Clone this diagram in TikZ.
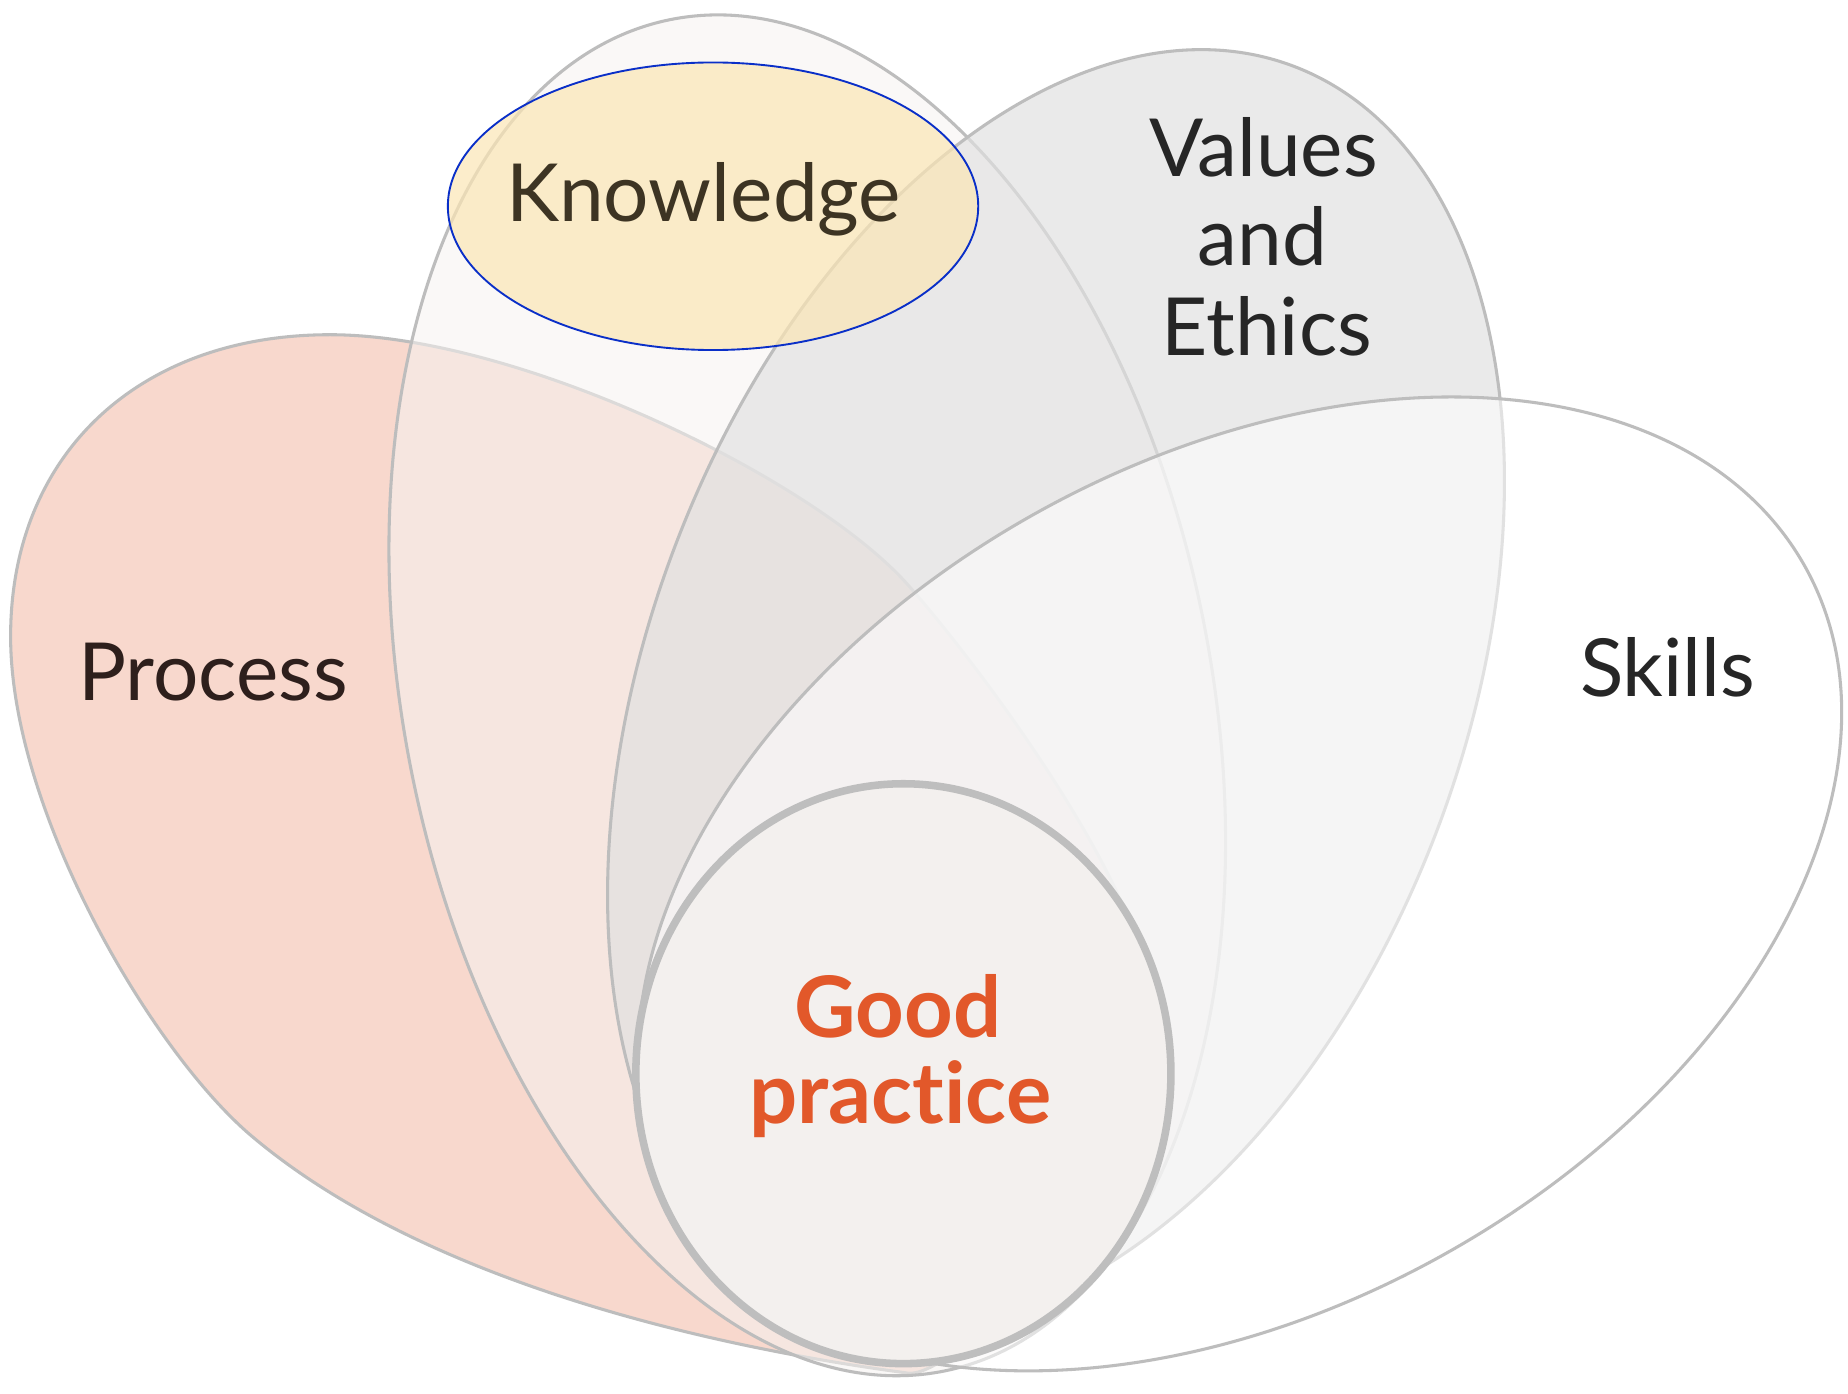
\documentclass[tikz,border=0pt]{standalone}
\usepackage{fontspec}
\setmainfont{Lato}[RawFeature={-liga;-dlig}]
\definecolor{procfill}{HTML}{F8D8CD}
\definecolor{knowfill}{HTML}{F6F3F1}
\definecolor{valfill}{HTML}{E1E1E1}
\definecolor{petalline}{HTML}{BDBDBD}
\definecolor{gpfill}{HTML}{F3F0EE}
\definecolor{gpline}{HTML}{BEBEBE}
\definecolor{hlfill}{RGB}{251,230,181}
\definecolor{hlline}{HTML}{0A2FC8}
\definecolor{gporange}{HTML}{E2582A}
\definecolor{labeldark}{HTML}{262626}
\definecolor{proctext}{HTML}{2E1F1C}
\definecolor{knowtext}{HTML}{3D3423}
\tikzset{
  petal/.style={draw=petalline, line width=1.3pt},
  lbl/.style={anchor=base, inner sep=0pt, font=\fontsize{34}{40}\selectfont, text=labeldark},
  gplbl/.style={anchor=base, inner sep=0pt, font=\fontsize{36}{42}\selectfont\bfseries, text=gporange}
}
\begin{document}
\begin{tikzpicture}[x=0.5pt,y=-0.5pt]
\useasboundingbox (0,0) rectangle (1568,1182);
\fill[white] (0,0) rectangle (1568,1182);
% centres
\coordinate (cK) at (685,590);
\coordinate (cV) at (896,584);
\coordinate (cS) at (1052,750);
\coordinate (cG) at (766.5,911);
\coordinate (cH) at (605,175);
% Process petal (egg shape, tip hidden under the circle)
\path[petal, fill=procfill]
  (280,284) .. controls (117,284) and (9,386) .. (9,540)
  .. controls (9,690) and (131,896) .. (216,966)
  .. controls (355,1082) and (583,1140) .. (770,1165)
  .. controls (812,1171) and (975,1000) .. (975,850)
  .. controls (975,760) and (837,572) .. (771,497)
  .. controls (692,407) and (440,284) .. (280,284) -- cycle;
% Knowledge petal
\path[petal, fill=knowfill, fill opacity=0.55, rotate around={11.5:(cK)}] (cK) ellipse [x radius=342, y radius=585];
% Values petal
\path[petal, fill=valfill, fill opacity=0.67, rotate around={-21:(cV)}] (cV) ellipse [x radius=345, y radius=565];
% Skills petal
\path[petal, fill=white, fill opacity=0.55, rotate around={29.4:(cS)}] (cS) ellipse [x radius=550, y radius=359];
% Good practice circle
\path[draw=gpline, line width=3.2pt, fill=gpfill] (cG) ellipse [x radius=227, y radius=246];
% Knowledge highlight
\path[draw=hlline, line width=0.8pt, fill=hlfill, fill opacity=0.7] (cH) ellipse [x radius=225, y radius=122];
% labels
\node[lbl, text=knowtext] (know) at (597,188) {Knowledge};
\node[lbl] (val1) at (1072,150) {Values};
\node[lbl] (val2) at (1071,225) {and};
\node[lbl] (val3) at (1075,302) {Ethics};
\node[lbl, text=proctext] (proc) at (181,594) {Process};
\node[lbl] (skil) at (1415,591) {Skills};
\node[gplbl] (gp1) at (762,880) {Good};
\node[gplbl] (gp2) at (764,953) {practice};
\end{tikzpicture}
\end{document}
